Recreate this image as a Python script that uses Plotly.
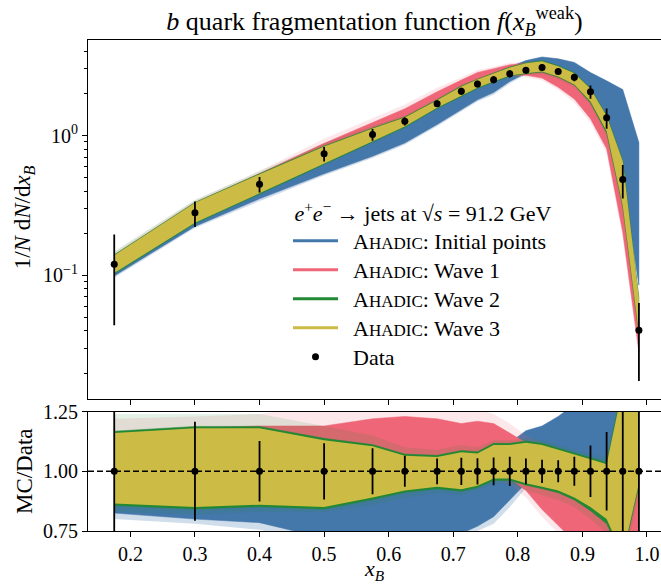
import plotly.graph_objects as go

# ---------------- data ----------------
x_b = [0.175, 0.3, 0.4, 0.5, 0.575, 0.625, 0.675, 0.7125, 0.7375, 0.7625,
       0.7875, 0.8125, 0.8375, 0.8625, 0.8875, 0.9125, 0.9375, 0.9625, 0.9875]

data_val = [0.12, 0.28, 0.449, 0.74, 1.017, 1.265, 1.69, 2.08, 2.34, 2.51,
            2.77, 2.94, 3.07, 2.88, 2.61, 2.06, 1.34, 0.485, 0.0405]
data_err = [0.076, 0.058, 0.057, 0.087, 0.098, 0.082, 0.091, 0.119, 0.129, 0.146,
            0.169, 0.159, 0.150, 0.132, 0.159, 0.222, 0.220, 0.13, 0.023]

blue_lo = [0.825, 0.80, 0.785, 0.72, 0.70, 0.70, 0.71, 0.74, 0.77, 0.81,
           0.88, 0.95, 0.99, 1.00, 1.02, 1.02, 1.03, 1.00, 2.1]
blue_lo_faint = [0.80, 0.78, 0.755, 0.70, 0.68, 0.68, 0.69, 0.72, 0.75, 0.78,
                 0.85, 0.93, 0.97, 1.00, 1.02, 1.02, 1.03, 1.00, 2.1]
blue_hi = [1.10, 1.10, 1.10, 1.05, 1.00, 0.98, 0.98, 1.00, 1.02, 1.06,
           1.12, 1.17, 1.19, 1.23, 1.28, 1.37, 1.84, 4.4, 22.0]

red_lo = [0.90, 0.90, 0.90, 0.90, 0.93, 0.95, 0.96, 0.95, 0.96, 0.98,
          0.97, 0.92, 0.84, 0.77, 0.70, 0.64, 0.60, 0.42, 0.70]
red_hi = [1.16, 1.18, 1.19, 1.19, 1.22, 1.23, 1.22, 1.20, 1.21, 1.20,
          1.16, 1.12, 1.10, 1.08, 1.05, 1.00, 0.96, 0.90, 1.10]
red_lo_faint = [0.88, 0.88, 0.88, 0.88, 0.90, 0.93, 0.94, 0.93, 0.94, 0.96,
                0.95, 0.89, 0.81, 0.74, 0.66, 0.60, 0.56, 0.38, 0.65]
red_hi_faint = [1.22, 1.23, 1.24, 1.28, 1.31, 1.32, 1.30, 1.25, 1.26, 1.24,
                1.20, 1.15, 1.12, 1.10, 1.07, 1.03, 0.99, 0.93, 1.15]

green_lo = [0.857, 0.842, 0.852, 0.842, 0.882, 0.912, 0.927, 0.917, 0.932, 0.962,
            0.962, 0.942, 0.927, 0.91, 0.88, 0.835, 0.78, 0.64, 0.94]
green_hi = [1.168, 1.188, 1.188, 1.138, 1.112, 1.072, 1.067, 1.087, 1.082, 1.117,
            1.117, 1.127, 1.117, 1.097, 1.077, 1.057, 1.037, 1.36, 1.71]
green_lo_faint = [0.83, 0.82, 0.83, 0.83, 0.86, 0.89, 0.91, 0.90, 0.92, 0.95,
                  0.95, 0.92, 0.90, 0.88, 0.85, 0.80, 0.74, 0.60, 0.90]
green_hi_faint = [1.24, 1.24, 1.24, 1.19, 1.15, 1.10, 1.09, 1.11, 1.10, 1.13,
                  1.13, 1.14, 1.13, 1.11, 1.09, 1.07, 1.06, 1.40, 1.75]

yellow_lo = [0.865, 0.85, 0.86, 0.85, 0.89, 0.92, 0.935, 0.925, 0.94, 0.97,
             0.97, 0.95, 0.935, 0.92, 0.89, 0.85, 0.80, 0.65, 0.95]
yellow_hi = [1.16, 1.18, 1.18, 1.13, 1.105, 1.065, 1.06, 1.08, 1.075, 1.11,
             1.11, 1.12, 1.11, 1.09, 1.07, 1.05, 1.03, 1.35, 1.70]

x_ticks = [0.2, 0.3, 0.4, 0.5, 0.6, 0.7, 0.8, 0.9, 1.0]
ratio_ticks = [0.75, 1.00, 1.25]
main_major = [0.1, 1.0]
main_major_text = ["10<sup>−1</sup>", "10<sup>0</sup>"]
main_minor = [0.02, 0.03, 0.04, 0.05, 0.06, 0.07, 0.08, 0.09,
              0.2, 0.3, 0.4, 0.5, 0.6, 0.7, 0.8, 0.9, 2, 3, 4]

legend_suffix = ["Initial points", "Wave 1", "Wave 2", "Wave 3"]
labels = ["\u2002<span style='font-size:22px'>A<span style='font-size:17px'>HADIC</span>: "
          + s + "</span>" for s in legend_suffix]
colors = ["#4477AA", "#EE6677", "#228833", "#CCBB44"]

# ---------------- figure ----------------
W, H = 661, 584
L, R, T, B = 88, 0, 39.5, 53
FONT = "Liberation Serif"

fig = go.Figure()


def band(lo, hi, color, opacity, lw):
    xs = x_b + x_b[::-1]
    ym = [l * d for l, d in zip(lo, data_val)] + [h * d for h, d in zip(hi, data_val)][::-1]
    yr = lo + hi[::-1]
    for yy, xa, ya in ((ym, "x", "y"), (yr, "x2", "y2")):
        fig.add_trace(go.Scatter(x=xs, y=yy, xaxis=xa, yaxis=ya, mode="lines",
                                 fill="toself", fillcolor=color, opacity=opacity,
                                 line=dict(width=lw, color=color),
                                 hoverinfo="skip", showlegend=False))


band(blue_lo_faint, blue_hi, colors[0], 0.25, 0)
band(blue_lo, blue_hi, colors[0], 1.0, 0.5)
band(red_lo_faint, red_hi_faint, colors[1], 0.15, 0)
band(red_lo, red_hi, colors[1], 1.0, 0.5)
band(green_lo_faint, green_hi_faint, colors[2], 0.12, 0)
band(green_lo, green_hi, colors[2], 1.0, 0.5)
band(yellow_lo, yellow_hi, colors[3], 1.0, 0)

for lab, col in zip(labels, colors):
    fig.add_trace(go.Scatter(x=[None], y=[None], mode="lines", name=lab,
                             line=dict(color=col, width=3), xaxis="x", yaxis="y"))

fig.add_trace(go.Scatter(x=x_b, y=data_val, mode="markers",
                         name="\u2002<span style='font-size:22px'>Data</span>",
                         marker=dict(color="black", size=7),
                         error_y=dict(type="data", array=data_err, color="black",
                                      thickness=1.8, width=0),
                         xaxis="x", yaxis="y"))
ratio_err = [e / d for e, d in zip(data_err, data_val)]
fig.add_trace(go.Scatter(x=x_b, y=[d / d for d in data_val], mode="markers",
                         marker=dict(color="black", size=7), showlegend=False,
                         error_y=dict(type="data", array=ratio_err,
                                      color="black", thickness=1.8, width=0),
                         xaxis="x2", yaxis="y2"))

ph = H - T - B
main_bottom = (531 - 399) / ph
ratio_top = (531 - 411.5) / ph

axis_common = dict(showline=True, linecolor="black", linewidth=1.2, ticks="outside",
                   tickcolor="black", tickwidth=1.1, showgrid=False, zeroline=False,
                   tickfont=dict(family=FONT, size=20, color="black"))

fig.update_layout(
    width=W, height=H, margin=dict(l=L, r=R, t=T, b=B),
    paper_bgcolor="white", plot_bgcolor="white",
    font=dict(family=FONT, size=20, color="black"),
    title=dict(text="<i>b</i> quark fragmentation function <i>f</i>(<i>x</i><sub><i>B</i></sub><sup>weak</sup>)",
               x=0.5, xref="paper", xanchor="center", y=1 - 21 / H, yanchor="middle",
               font=dict(family=FONT, size=26, color="black")),
    xaxis=dict(domain=[0, 1], range=[0.134375, 1.0217], anchor="y", matches="x2",
               tickvals=x_ticks, showticklabels=False, ticklen=5, mirror=True, **axis_common),
    yaxis=dict(domain=[main_bottom, 1], type="log", range=[-1.886, 0.684], anchor="x",
               tickvals=main_major, ticktext=main_major_text, ticklen=5,
               minor=dict(tickvals=main_minor, ticklen=3, ticks="outside", tickcolor="black",
                          tickwidth=0.9, showgrid=False),
               **axis_common),
    xaxis2=dict(domain=[0, 1], range=[0.134375, 1.0217], anchor="y2",
                tickvals=x_ticks, tickformat=".1f", ticklen=5, mirror=True, **axis_common),
    yaxis2=dict(domain=[0, ratio_top], range=[0.75, 1.25], anchor="x2",
                tickvals=ratio_ticks, tickformat=".2f", ticklen=5, **axis_common),
    legend=dict(x=(288 - L) / (W - L - R), xanchor="left", y=(531 - 195) / ph, yanchor="top",
                bgcolor="rgba(0,0,0,0)", borderwidth=0, itemwidth=45,
                font=dict(family=FONT, size=20, color="black"),
                title=dict(text="<span style='font-size:22px'>\u2009<i>e</i><sup>+</sup><i>e</i><sup>−</sup> → jets at √<i>s</i> = 91.2 GeV</span>",
                           font=dict(family=FONT, size=20, color="black"))),
    shapes=[dict(type="line", xref="paper", x0=0, x1=1, yref="y2", y0=1, y1=1,
                 line=dict(color="black", width=1.4, dash="6px,3px"))],
    annotations=[
        dict(text="1/<i>N</i> d<i>N</i>/d<i>x</i><sub><i>B</i></sub>", textangle=-90,
             xref="paper", x=(24 - L) / (W - L - R), xanchor="center",
             yref="paper", y=(531 - 217) / ph, yanchor="middle", showarrow=False,
             font=dict(family=FONT, size=23, color="black")),
        dict(text="MC/Data", textangle=-90,
             xref="paper", x=(24 - L) / (W - L - R), xanchor="center",
             yref="paper", y=(531 - 471) / ph, yanchor="middle", showarrow=False,
             font=dict(family=FONT, size=23, color="black")),
        dict(text="<i>x</i><sub><i>B</i></sub>", xref="paper", x=0.5, xanchor="center",
             yref="paper", y=(531 - 570) / ph, yanchor="middle", showarrow=False,
             font=dict(family=FONT, size=22, color="black")),
    ],
)

fig.write_html("out.html")
